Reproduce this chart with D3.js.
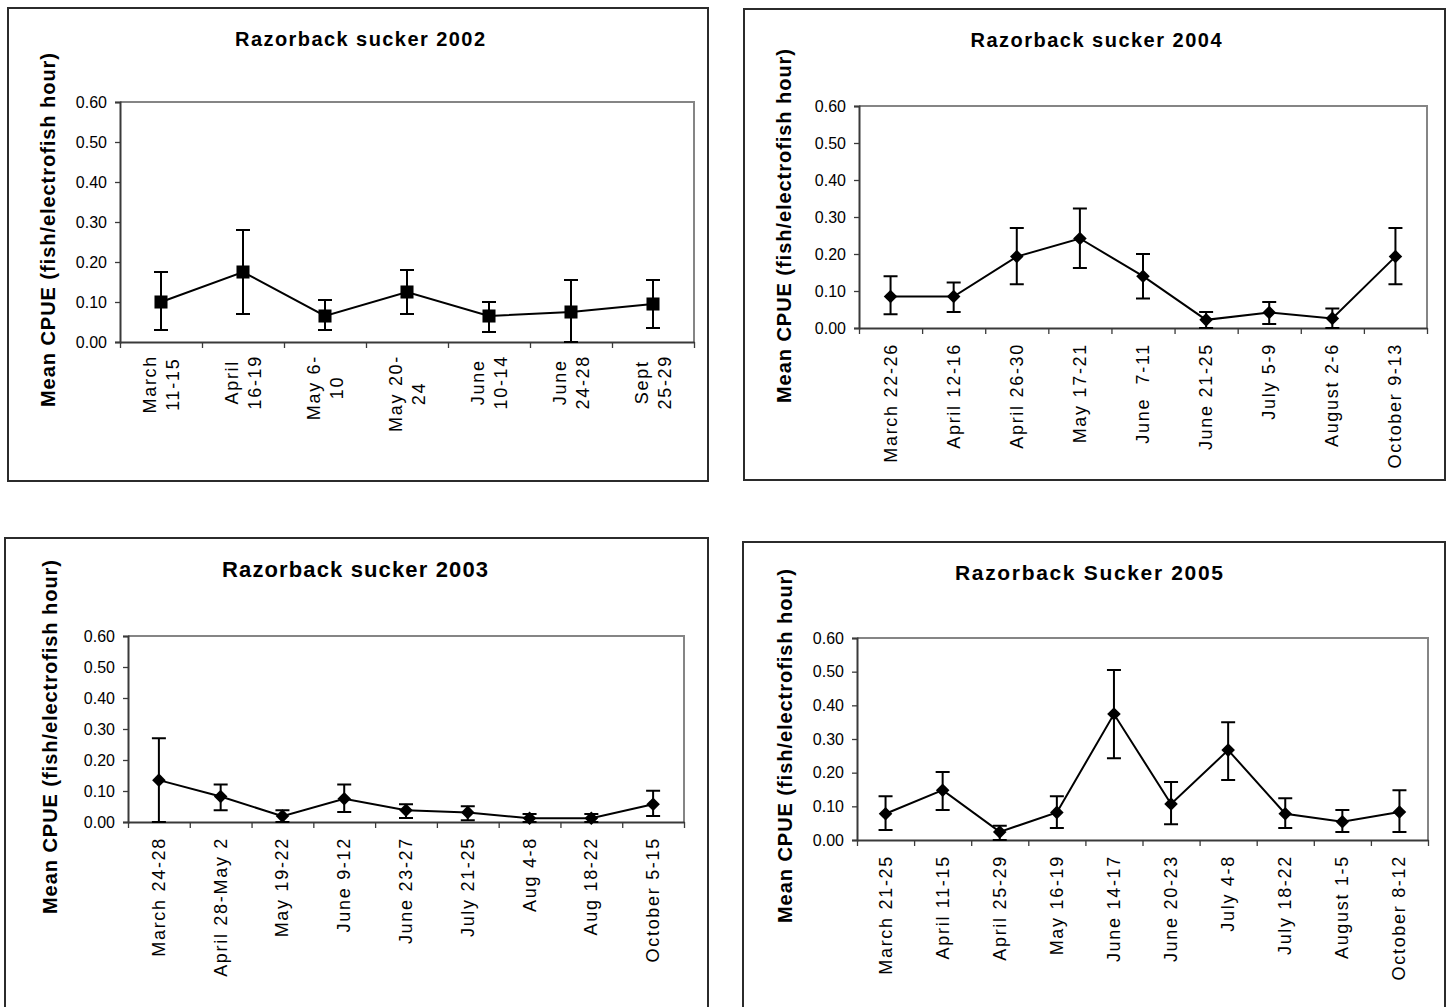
<!DOCTYPE html>
<html>
<head>
<meta charset="utf-8">
<script src="https://cdn.jsdelivr.net/npm/d3@7"></script>
<style>
  body { margin: 0; background: #fff; }
  svg { display: block; }
  text { font-family: "Liberation Sans", Arial, sans-serif; fill: #000; }
</style>
</head>
<body>
<svg id="chart" width="1450" height="1007"></svg>
<script>
// Shared y-axis ticks (mean CPUE)
const yTicks = [0, 0.1, 0.2, 0.3, 0.4, 0.5, 0.6];
const yLabel = "Mean CPUE (fish/electrofish hour)";

// 2002 sampling trips (labels wrap onto two lines)
const cats2002 = [["March", "11-15"], ["April", "16-19"], ["May 6-", "10"], ["May 20-", "24"],
                  ["June", "10-14"], ["June", "24-28"], ["Sept", "25-29"]];
const mean2002 = [0.100, 0.175, 0.065, 0.125, 0.065, 0.075, 0.095];
const hi2002   = [0.175, 0.280, 0.105, 0.180, 0.100, 0.155, 0.155];
const lo2002   = [0.030, 0.070, 0.030, 0.070, 0.025, 0.000, 0.035];

// 2004 sampling trips
const cats2004 = ["March 22-26", "April 12-16", "April 26-30", "May 17-21", "June  7-11",
                  "June 21-25", "July 5-9", "August 2-6", "October 9-13"];
const mean2004 = [0.085, 0.085, 0.193, 0.242, 0.140, 0.022, 0.042, 0.026, 0.193];
const hi2004   = [0.140, 0.123, 0.270, 0.323, 0.200, 0.043, 0.070, 0.053, 0.270];
const lo2004   = [0.037, 0.043, 0.118, 0.162, 0.080, 0.000, 0.011, 0.000, 0.118];

// 2003 sampling trips
const cats2003 = ["March 24-28", "April 28-May 2", "May 19-22", "June 9-12", "June 23-27",
                  "July 21-25", "Aug 4-8", "Aug 18-22", "October 5-15"];
const mean2003 = [0.135, 0.082, 0.019, 0.075, 0.038, 0.031, 0.012, 0.012, 0.057];
const hi2003   = [0.270, 0.121, 0.038, 0.121, 0.057, 0.051, 0.026, 0.026, 0.101];
const lo2003   = [0.000, 0.038, 0.000, 0.032, 0.013, 0.006, 0.000, 0.000, 0.019];

// 2005 sampling trips
const cats2005 = ["March 21-25", "April 11-15", "April 25-29", "May 16-19", "June 14-17",
                  "June 20-23", "July 4-8", "July 18-22", "August 1-5", "October 8-12"];
const mean2005 = [0.078, 0.148, 0.024, 0.082, 0.374, 0.107, 0.267, 0.078, 0.054, 0.083];
const hi2005   = [0.130, 0.202, 0.042, 0.130, 0.505, 0.172, 0.350, 0.124, 0.089, 0.148];
const lo2005   = [0.030, 0.089, 0.000, 0.036, 0.243, 0.047, 0.178, 0.036, 0.024, 0.024];

const svg = d3.select("#chart");

function drawPanel(p) {
  const g = svg.append("g");
  const n = p.cats.length;

  // chart frame
  g.append("rect")
    .attr("x", p.box[0]).attr("y", p.box[1]).attr("width", p.box[2]).attr("height", p.box[3])
    .attr("fill", "none").attr("stroke", "#2b2b2b").attr("stroke-width", 2);

  const [x0, y0, x1, y1] = p.plot;
  const xb = d3.scaleLinear().domain([0, n]).range([x0, x1]);
  const y = d3.scaleLinear().domain([0, 0.6]).range([y1, y0]);

  // plot-area border (top and right in grey)
  g.append("path")
    .attr("d", `M${x0},${y0}H${x1}V${y1}`)
    .attr("fill", "none").attr("stroke", "#858585").attr("stroke-width", 2);

  // y axis
  const ya = g.append("g").attr("transform", `translate(${x0},0)`)
    .call(d3.axisLeft(y).tickValues(yTicks).tickFormat(d3.format(".2f")).tickSize(5).tickPadding(8));
  ya.select(".domain").attr("stroke", "#3a3a3a").attr("stroke-width", 2);
  ya.selectAll(".tick line").attr("stroke", "#3a3a3a").attr("stroke-width", 1.3);
  ya.selectAll(".tick text").attr("font-size", 16).attr("font-family", "Liberation Sans, Arial, sans-serif")
    .attr("fill", "#000");

  // x axis with ticks on category boundaries
  const xa = g.append("g").attr("transform", `translate(0,${y1})`)
    .call(d3.axisBottom(xb).tickValues(d3.range(n + 1)).tickFormat("").tickSize(6).tickSizeOuter(0));
  xa.select(".domain").attr("stroke", "#3a3a3a").attr("stroke-width", 2);
  xa.selectAll(".tick line").attr("stroke", "#3a3a3a").attr("stroke-width", 1.3);

  const cx = i => xb(i + 0.5);

  // category labels, rotated to read bottom-to-top
  p.cats.forEach((c, i) => {
    const lines = Array.isArray(c) ? c : [c];
    const lg = g.append("g");
    const texts = lines.map(t => lg.append("text")
      .attr("font-size", 18).attr("letter-spacing", 1.7)
      .attr("xml:space", "preserve")
      .text(t));
    if (lines.length === 1) {
      texts[0].attr("text-anchor", "end").attr("dominant-baseline", "central")
        .attr("transform", `translate(${cx(i)},${y1 + 15}) rotate(-90)`);
    } else {
      const maxLen = d3.max(texts, t => t.node().getComputedTextLength());
      const cy = y1 + 13 + maxLen / 2;
      texts.forEach((t, k) => {
        const off = (k - (lines.length - 1) / 2) * p.lineGap;
        t.attr("text-anchor", "middle").attr("dominant-baseline", "central")
          .attr("transform", `translate(${cx(i) + off},${cy}) rotate(-90)`);
      });
    }
  });

  // error bars
  const cap = 7;
  const eb = g.append("g").attr("stroke", "#000").attr("stroke-width", 2).attr("fill", "none");
  p.mean.forEach((m, i) => {
    const X = cx(i);
    eb.append("path").attr("d",
      `M${X},${y(p.hi[i])}V${y(p.lo[i])}` +
      `M${X - cap},${y(p.hi[i])}H${X + cap}` +
      `M${X - cap},${y(p.lo[i])}H${X + cap}`);
  });

  // mean line
  g.append("path")
    .datum(p.mean)
    .attr("d", d3.line().x((d, i) => cx(i)).y(d => y(d)))
    .attr("fill", "none").attr("stroke", "#000").attr("stroke-width", 2);

  // markers
  const sym = p.marker === "square"
    ? d3.symbol(d3.symbolSquare, 170)
    : d3.symbol(d3.symbolSquare, 92);
  g.append("g").selectAll("path").data(p.mean).join("path")
    .attr("d", sym)
    .attr("transform", (d, i) => `translate(${cx(i)},${y(d)})` + (p.marker === "square" ? "" : " rotate(45)"))
    .attr("fill", "#000");

  // title
  g.append("text")
    .attr("x", p.titleX).attr("y", p.titleY)
    .attr("text-anchor", "middle")
    .attr("font-size", p.titleSize).attr("font-weight", "bold")
    .attr("textLength", p.titleLen).attr("lengthAdjust", "spacing")
    .text(p.title);

  // y-axis title
  g.append("text")
    .attr("transform", `translate(${p.ylab[0]},${p.ylab[1]}) rotate(-90)`)
    .attr("text-anchor", "middle").attr("dominant-baseline", "central")
    .attr("font-size", 20).attr("font-weight", "bold")
    .attr("textLength", 354).attr("lengthAdjust", "spacing")
    .text(yLabel);
}

drawPanel({
  box: [8, 8, 700, 473], plot: [120, 102, 694, 342],
  title: "Razorback sucker 2002", titleX: 360, titleY: 46, titleLen: 250, titleSize: 20,
  ylab: [48, 230], cats: cats2002, mean: mean2002, hi: hi2002, lo: lo2002,
  marker: "square", lineGap: 23
});

drawPanel({
  box: [744, 9, 701, 471], plot: [859, 106, 1427, 328],
  title: "Razorback sucker 2004", titleX: 1096, titleY: 47, titleLen: 251, titleSize: 20,
  ylab: [784, 226], cats: cats2004, mean: mean2004, hi: hi2004, lo: lo2004,
  marker: "diamond"
});

drawPanel({
  box: [5, 538, 703, 480], plot: [128, 636, 684, 822],
  title: "Razorback sucker 2003", titleX: 355, titleY: 577, titleLen: 266, titleSize: 22,
  ylab: [50, 737], cats: cats2003, mean: mean2003, hi: hi2003, lo: lo2003,
  marker: "diamond"
});

drawPanel({
  box: [743, 542, 702, 480], plot: [857, 638, 1428, 840],
  title: "Razorback Sucker 2005", titleX: 1089, titleY: 580, titleLen: 268, titleSize: 21,
  ylab: [785, 746], cats: cats2005, mean: mean2005, hi: hi2005, lo: lo2005,
  marker: "diamond"
});
</script>
</body>
</html>
